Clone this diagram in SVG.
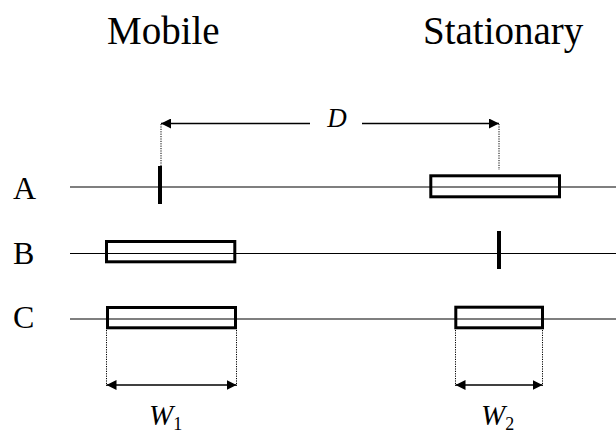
<svg xmlns="http://www.w3.org/2000/svg" width="616" height="432" viewBox="0 0 616 432">
<defs>
<marker id="ah" viewBox="0 0 10 10" refX="10" refY="5" markerWidth="10" markerHeight="10" markerUnits="userSpaceOnUse" orient="auto-start-reverse">
<path d="M0,0 L10,5 L0,10 z" fill="#000"/>
</marker>
<style>
text{font-family:'Liberation Serif','DejaVu Serif',serif;fill:#000}
.row{stroke:#000;stroke-width:1.2;fill:none}
.box{stroke:#000;stroke-width:3;fill:none}
.tick{stroke:#000;stroke-width:4}
.dot{stroke:#000;stroke-width:1;stroke-dasharray:1.2,1.2;fill:none}
.arr{stroke:#000;stroke-width:1.5;fill:none}
</style>
</defs>
<rect width="616" height="432" fill="#fff"/>
<g id="headers">
<text x="107" y="44" font-size="39">Mobile</text>
<text x="423" y="44" font-size="39">Stationary</text>
</g>
<g id="labels">
<text x="13" y="199" font-size="32">A</text>
<text x="13" y="264" font-size="32">B</text>
<text x="13" y="328" font-size="32">C</text>
</g>
<g id="rows">
<line class="row" x1="70" y1="187" x2="616" y2="187"/>
<line class="row" x1="70" y1="253.5" x2="616" y2="253.5"/>
<line class="row" x1="70" y1="319" x2="616" y2="319"/>
</g>
<g id="rowA">
<line class="tick" x1="160" y1="166" x2="160" y2="204"/>
<rect class="box" x="430.8" y="175.8" width="128.7" height="21"/>
</g>
<g id="rowB">
<rect class="box" x="106.5" y="241.5" width="128.3" height="20.3"/>
<line class="tick" x1="499" y1="231" x2="499" y2="269"/>
</g>
<g id="rowC">
<rect class="box" x="107.5" y="307.5" width="128" height="20.3"/>
<rect class="box" x="455.8" y="307.2" width="86.7" height="20.6"/>
</g>
<g id="connectors">
<path class="dot" d="M161,124 V166"/>
<path class="dot" d="M499,124 V170"/>
<line class="arr" x1="310" y1="123.5" x2="161" y2="123.5" marker-end="url(#ah)"/>
<line class="arr" x1="362" y1="123.5" x2="499" y2="123.5" marker-end="url(#ah)"/>
<text x="337" y="127" font-size="27" font-style="italic" text-anchor="middle">D</text>
<path class="dot" d="M106.5,330 V386 M236.5,330 V386"/>
<line class="arr" x1="106.5" y1="385" x2="236.5" y2="385" marker-start="url(#ah)" marker-end="url(#ah)"/>
<path class="dot" d="M455.5,330 V386 M542.5,330 V386"/>
<line class="arr" x1="455.5" y1="385" x2="542.5" y2="385" marker-start="url(#ah)" marker-end="url(#ah)"/>
<text x="149" y="425" font-size="29" font-style="italic">W<tspan font-style="normal" font-size="18" dy="5">1</tspan></text>
<text x="481" y="425" font-size="29" font-style="italic">W<tspan font-style="normal" font-size="18" dy="5">2</tspan></text>
</g>
</svg>
